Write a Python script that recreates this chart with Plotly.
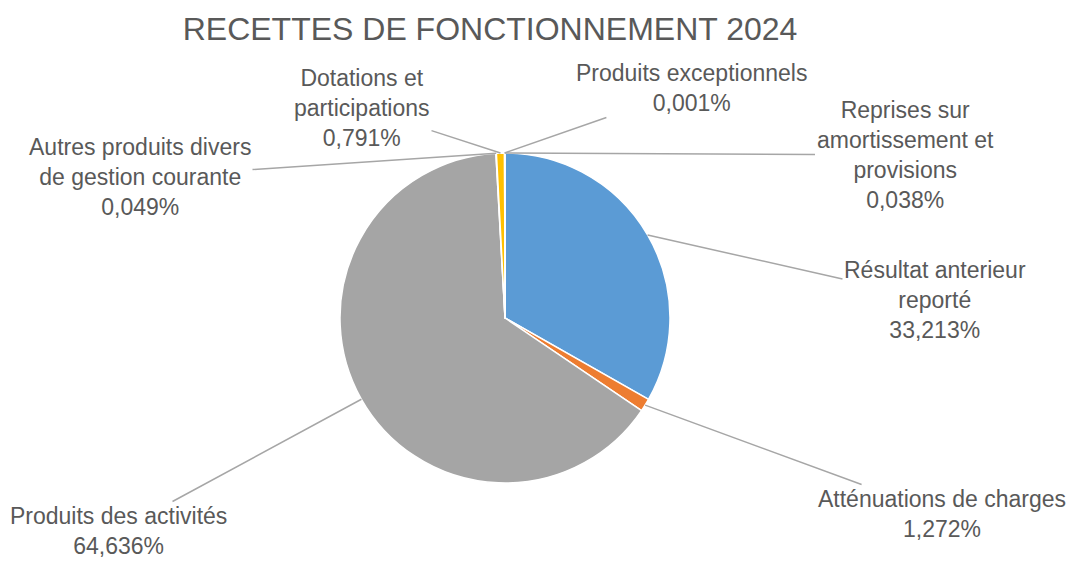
import math
import plotly.graph_objects as go

# ---- data ----
categories = [
    "Résultat anterieur reporté",
    "Atténuations de charges",
    "Produits des activités",
    "Autres produits divers de gestion courante",
    "Dotations et participations",
    "Produits exceptionnels",
    "Reprises sur amortissement et provisions",
]
values = [33.213, 1.272, 64.636, 0.049, 0.791, 0.001, 0.038]
label_lines = [
    ["Résultat anterieur", "reporté"],
    ["Atténuations de charges"],
    ["Produits des activités"],
    ["Autres produits divers", "de gestion courante"],
    ["Dotations et", "participations"],
    ["Produits exceptionnels"],
    ["Reprises sur", "amortissement et", "provisions"],
]
colors = ["#5B9BD5", "#ED7D31", "#A5A5A5", "#4472C4", "#FFC000", "#70AD47", "#255E91"]
title = "RECETTES DE FONCTIONNEMENT 2024"

# ---- layout constants (pixels) ----
W, H = 1073, 562
CX, CY, R = 505, 318, 165
# label text centres (pixels)
label_pos = [(935, 300), (942, 514), (118, 531), (140, 177), (362, 108), (691, 88), (905, 155)]

fig = go.Figure()
fig.add_trace(go.Pie(
    labels=categories,
    values=values,
    sort=False,
    direction="clockwise",
    rotation=0,
    textinfo="none",
    hoverinfo="label+percent",
    marker=dict(colors=colors, line=dict(color="white", width=1.5)),
    showlegend=False,
    domain=dict(x=[(CX - R) / W, (CX + R) / W], y=[1 - (CY + R) / H, 1 - (CY - R) / H]),
))

def fmt(v):
    return f"{v:.3f}".replace(".", ",") + "%"

total = sum(values)
cum = 0.0
annotations = []
for i, v in enumerate(values):
    mid = (cum + v / 2) / total * 2 * math.pi
    cum += v
    hx = CX + R * math.sin(mid)
    hy = CY - R * math.cos(mid)
    lx, ly = label_pos[i]
    text = "<br>".join(label_lines[i] + [fmt(v)])
    annotations.append(dict(
        x=hx / W, y=1 - hy / H, xref="paper", yref="paper",
        ax=lx - hx, ay=ly - hy,
        text=text, showarrow=True, arrowhead=0, arrowwidth=1.5,
        arrowcolor="#A6A6A6", standoff=0,
        font=dict(family="Liberation Sans, Arial, sans-serif", size=23, color="#595959"),
        align="center",
    ))

fig.update_layout(
    width=W, height=H,
    margin=dict(l=0, r=0, t=0, b=0),
    paper_bgcolor="white",
    plot_bgcolor="white",
    title=dict(text=title, x=490 / W, y=1 - 29 / H, xanchor="center", yanchor="middle",
               font=dict(family="Liberation Sans, Arial, sans-serif", size=32, color="#595959")),
    annotations=annotations,
)

fig.write_html("out.html", config={"displayModeBar": False},
               post_script="document.body.style.margin='0';")
